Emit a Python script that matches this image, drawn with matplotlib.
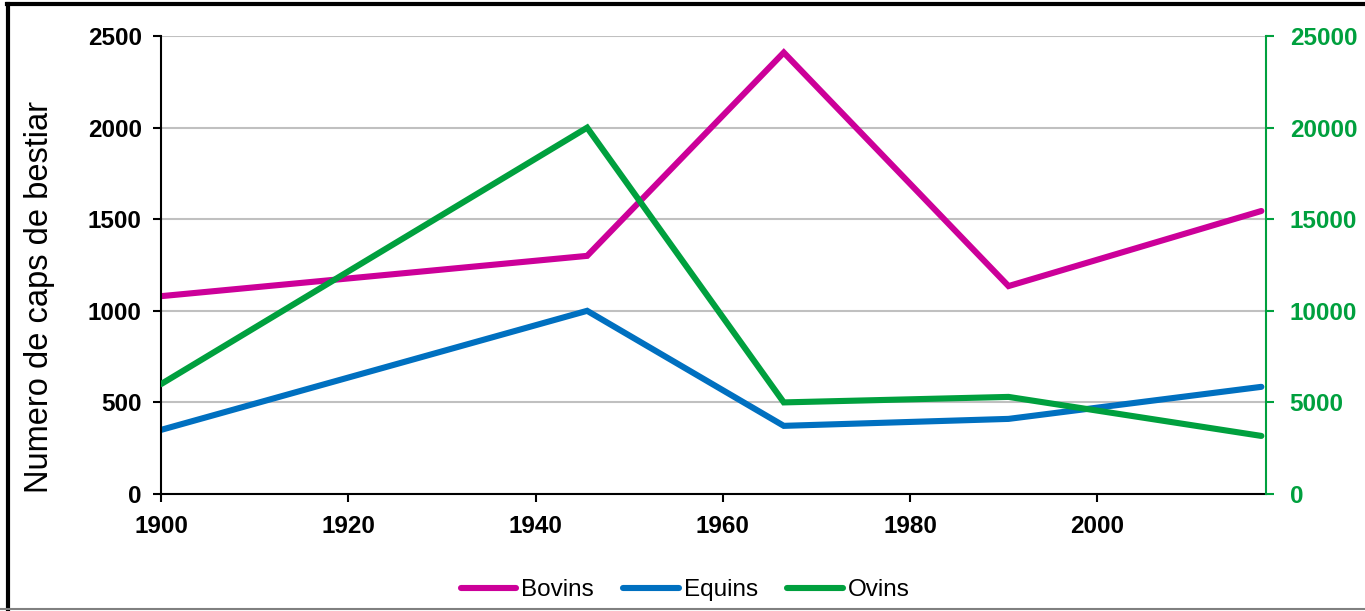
import matplotlib.pyplot as plt
from matplotlib.lines import Line2D

plt.rcParams['font.family'] = ['Liberation Sans', 'DejaVu Sans']

# data
years = [1900, 1945.5, 1966.5, 1990.5, 2017.5]
bovins = [1080, 1300, 2410, 1135, 1545]
equins = [350, 1000, 372, 410, 585]
ovins = [6000, 20000, 5000, 5300, 3170]

c_bov = '#CC0099'
c_equ = '#0070C0'
c_ovi = '#00A03E'

fig = plt.figure(figsize=(13.65, 6.11), dpi=100)
ax = fig.add_axes([0.118, 0.1915, 0.8095, 0.7495])
ax2 = ax.twinx()

lw = 4.4
l1, = ax.plot(years, bovins, color=c_bov, lw=lw, solid_capstyle='round', solid_joinstyle='miter', label='Bovins')
l2, = ax.plot(years, equins, color=c_equ, lw=lw, solid_capstyle='round', solid_joinstyle='miter', label='Equins')
l3, = ax2.plot(years, ovins, color=c_ovi, lw=lw, solid_capstyle='round', solid_joinstyle='miter', label='Ovins')

ax.set_xlim(1900, 2018)
ax.set_ylim(0, 2500)
ax2.set_ylim(0, 25000)
ax.set_xticks(range(1900, 2001, 20))
ax.set_yticks(range(0, 2501, 500))
ax2.set_yticks(range(0, 25001, 5000))

ax.grid(axis='y', color='#C0C0C0', lw=1.5)
ax.set_axisbelow(True)

for s in ['top', 'right']:
    ax.spines[s].set_visible(False)
for s in ['top', 'left', 'bottom']:
    ax2.spines[s].set_visible(False)
ax.spines['left'].set_linewidth(1.5)
ax.spines['bottom'].set_linewidth(1.5)
ax2.spines['right'].set_color(c_ovi)
ax2.spines['right'].set_linewidth(1.5)

ax.tick_params(axis='y', direction='out', length=6, width=1.5, pad=8,
               labelsize=17.5)
ax.tick_params(axis='x', direction='out', length=6, width=1.5, pad=9,
               labelsize=17.5)
ax2.tick_params(axis='y', direction='out', length=6, width=1.5, pad=11,
                labelsize=17.5, colors=c_ovi)
for t in ax.get_xticklabels() + ax.get_yticklabels() + ax2.get_yticklabels():
    t.set_fontweight('bold')

ax.set_ylabel('Numero de caps de bestiar', fontsize=23.5)
ax.yaxis.set_label_coords(-0.096, 0.43)

fig.legend(handles=[l1, l2, l3], loc='center', bbox_to_anchor=(0.502, 0.034),
           ncol=3, frameon=False, fontsize=17.5, handlelength=2.3,
           handletextpad=0.2, columnspacing=1.2)

# outer frame
fig.add_artist(Line2D([0.005, 1.0], [0.993, 0.993], color='black', lw=3, transform=fig.transFigure))
fig.add_artist(Line2D([0.006, 0.006], [0.0, 0.993], color='black', lw=3, transform=fig.transFigure))
fig.add_artist(Line2D([0.0, 1.0], [0.003, 0.003], color='#808080', lw=1.5, transform=fig.transFigure))

fig.savefig('out.png', dpi=100)
